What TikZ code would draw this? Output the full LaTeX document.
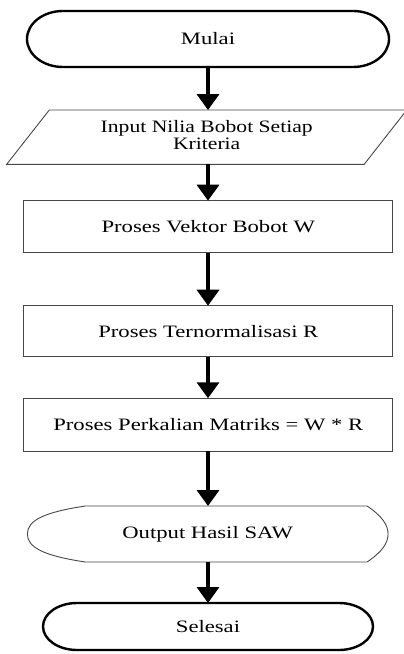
\documentclass[tikz,border=0pt]{standalone}
\usepackage{fontspec}
\setmainfont{Liberation Serif}
\usepackage{graphicx}
\usetikzlibrary{arrows.meta,calc}

% horizontally widened label text
\newcommand\widetext[2][1.3]{\scalebox{#1}[1]{#2}}

\begin{document}
\begin{tikzpicture}[x=1bp,y=-1bp,
  lbl/.style={font=\fontsize{17.5}{19}\selectfont, align=center,
              inner sep=0pt, outer sep=0pt},
  shapebox/.style={lbl, rectangle, minimum width=#1},
  thinline/.style={draw=black!72, line width=0.9bp},
  termline/.style={draw=black, line width=2.4bp},
  procbox/.style={lbl, rectangle, thinline, minimum width=368.7bp},
  flow/.style={draw=black, line width=3.6bp,
               -{Triangle[width=22bp,length=16bp]}}
]
\useasboundingbox (0,0) rectangle (403,654);

% ---- nodes ----
\node[shapebox=362bp, minimum height=56bp] (start) at (208,39)
  {\widetext{Mulai}};
\node[shapebox=357.5bp, minimum height=54.3bp] (input) at (206.7,137.2)
  {\widetext[1.24]{\begin{tabular}{@{}c@{}}Input Nilia Bobot Setiap\\[-1.5pt]Kriteria\end{tabular}}};
\node[procbox, minimum height=52bp] (vektor) at (208.3,226.7)
  {\widetext{Proses Vektor Bobot W}};
\node[procbox, minimum height=51bp] (norm) at (208.3,331.2)
  {\widetext{Proses Ternormalisasi R}};
\node[procbox, minimum height=52.7bp] (kali) at (208.3,424.6)
  {\widetext[1.3]{Proses Perkalian Matriks = W * R}};
\node[shapebox=360.7bp, minimum height=56bp] (output) at (207.7,534)
  {\widetext{Output Hasil SAW}};
\node[shapebox=330bp, minimum height=47bp] (stop) at (208,626.5)
  {\widetext{Selesai}};

% ---- outlines of the special shapes ----
% start terminator
\draw[termline]
  ([xshift=36bp]start.north west) -- ([xshift=-36bp]start.north east)
  arc[start angle=90, end angle=-90, x radius=36bp, y radius=28bp]
  -- ([xshift=36bp]start.south west)
  arc[start angle=270, end angle=90, x radius=36bp, y radius=28bp] -- cycle;
% input parallelogram
\draw[thinline]
  ([xshift=21.3bp]input.north west) -- ([xshift=21.3bp]input.north east)
  -- ([xshift=-21.3bp]input.south east) -- ([xshift=-21.3bp]input.south west)
  -- cycle;
% output display shape
\draw[thinline]
  ([xshift=58bp]output.north west) -- ([xshift=-21bp]output.north east)
  .. controls ([xshift=-6bp,yshift=-10bp]output.north east)
          and ([yshift=9bp]output.east) .. (output.east)
  .. controls ([yshift=-9bp]output.east)
          and ([xshift=-6bp,yshift=10bp]output.south east)
  .. ([xshift=-21bp]output.south east)
  -- ([xshift=58bp]output.south west)
  .. controls ([xshift=18bp,yshift=6bp]output.south west)
          and ([yshift=-14bp]output.west) .. (output.west)
  .. controls ([yshift=14bp]output.west)
          and ([xshift=18bp,yshift=-6bp]output.north west)
  .. ([xshift=58bp]output.north west) -- cycle;
% stop terminator
\draw[termline]
  ([xshift=34bp]stop.north west) -- ([xshift=-34bp]stop.north east)
  arc[start angle=90, end angle=-90, x radius=34bp, y radius=23.5bp]
  -- ([xshift=34bp]stop.south west)
  arc[start angle=270, end angle=90, x radius=34bp, y radius=23.5bp] -- cycle;

% ---- connectors ----
\draw[flow] (start.south) -- (start.south |- input.north);
\draw[flow] (input.south -| start.south) -- (start.south |- vektor.north);
\draw[flow] (vektor.south -| start.south) -- (start.south |- norm.north);
\draw[flow] (norm.south -| start.south) -- (start.south |- kali.north);
\draw[flow] (kali.south -| start.south) -- (start.south |- output.north);
\draw[flow] (output.south -| start.south) -- (start.south |- stop.north);
\end{tikzpicture}
\end{document}
